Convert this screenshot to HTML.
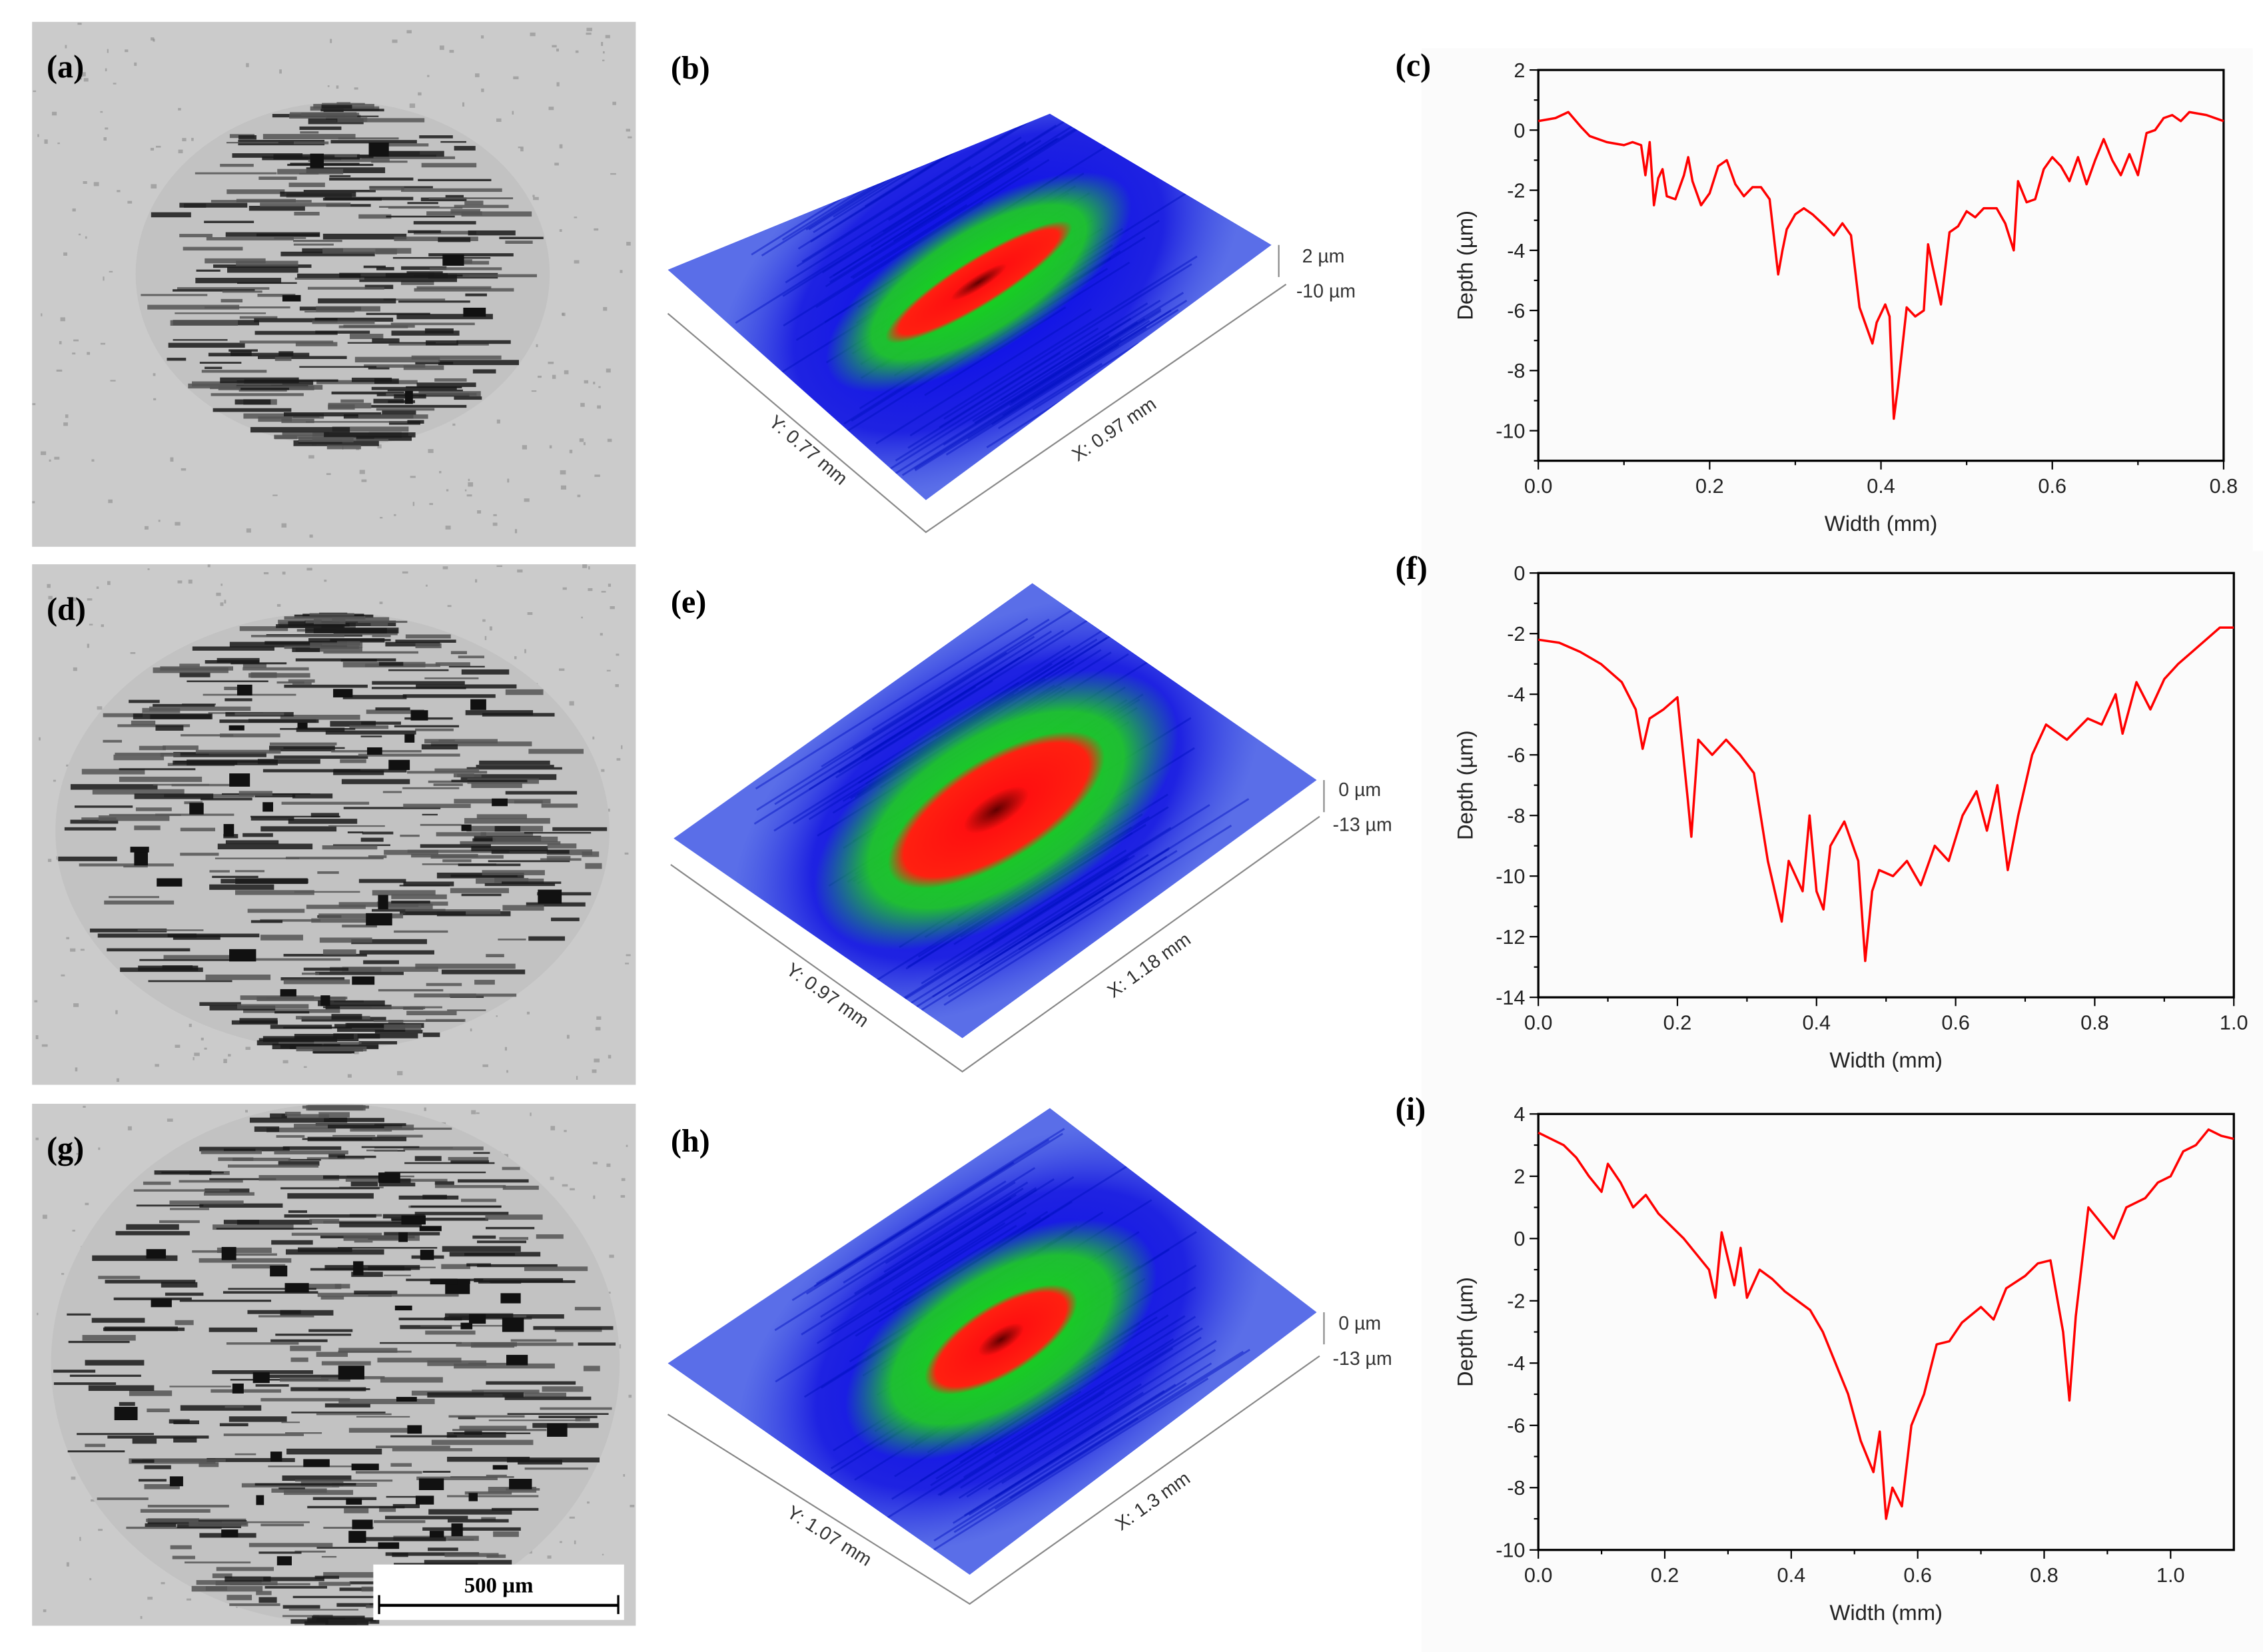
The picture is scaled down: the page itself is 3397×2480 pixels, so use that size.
<!DOCTYPE html>
<html><head><meta charset="utf-8">
<style>
html,body{margin:0;padding:0;background:#fff;}
svg{display:block;}
text{font-family:"Liberation Sans",sans-serif;}
.pl{font-family:"Liberation Serif",serif;font-weight:bold;font-size:22px;}
.tk{font-size:14px;fill:#222;}
.at{font-size:15px;fill:#222;}
.sm{font-size:13px;fill:#333;}
</style></head>
<body>
<svg id="fig" width="3397" height="2480" viewBox="0 0 1552 1133" preserveAspectRatio="none" xmlns="http://www.w3.org/2000/svg">
<defs>
<radialGradient id="gG" cx="50%" cy="50%" r="50%">
<stop offset="0" stop-color="#10e010"/><stop offset="0.7" stop-color="#20d020" stop-opacity="0.9"/><stop offset="1" stop-color="#20c040" stop-opacity="0"/>
</radialGradient>
<radialGradient id="gR" cx="50%" cy="50%" r="50%">
<stop offset="0" stop-color="#600000"/><stop offset="0.3" stop-color="#ff1010"/><stop offset="0.85" stop-color="#ff2010"/><stop offset="1" stop-color="#ff2010" stop-opacity="0"/>
</radialGradient>
<radialGradient id="gB" cx="50%" cy="50%" r="50%">
<stop offset="0" stop-color="#0000ee"/><stop offset="0.7" stop-color="#1010e0" stop-opacity="0.8"/><stop offset="1" stop-color="#3040e0" stop-opacity="0"/>
</radialGradient>
</defs>
<g id="photos"></g>
<g id="surfaces"></g>
<g id="charts"></g>
</svg>
<script>
const NS="http://www.w3.org/2000/svg";
function mk(tag,attrs,parent){const e=document.createElementNS(NS,tag);for(const k in attrs)e.setAttribute(k,attrs[k]);parent.appendChild(e);return e;}

// ---------- chart data ----------
const cX=[0,0.02,0.035,0.05,0.06,0.08,0.1,0.11,0.12,0.125,0.13,0.135,0.14,0.145,0.15,0.16,0.17,0.175,0.18,0.19,0.2,0.21,0.22,0.23,0.24,0.25,0.26,0.27,0.28,0.285,0.29,0.3,0.31,0.32,0.335,0.345,0.355,0.365,0.375,0.39,0.395,0.405,0.41,0.415,0.42,0.43,0.44,0.45,0.455,0.46,0.47,0.48,0.49,0.5,0.51,0.52,0.535,0.545,0.555,0.56,0.57,0.58,0.59,0.6,0.61,0.62,0.63,0.64,0.65,0.66,0.67,0.68,0.69,0.7,0.71,0.72,0.73,0.74,0.75,0.76,0.78,0.8];
const cY=[0.3,0.4,0.6,0.1,-0.2,-0.4,-0.5,-0.4,-0.5,-1.5,-0.4,-2.5,-1.6,-1.3,-2.2,-2.3,-1.5,-0.9,-1.7,-2.5,-2.1,-1.2,-1.0,-1.8,-2.2,-1.9,-1.9,-2.3,-4.8,-4.0,-3.3,-2.8,-2.6,-2.8,-3.2,-3.5,-3.1,-3.5,-5.9,-7.1,-6.4,-5.8,-6.2,-9.6,-8.5,-5.9,-6.2,-6.0,-3.8,-4.5,-5.8,-3.4,-3.2,-2.7,-2.9,-2.6,-2.6,-3.1,-4.0,-1.7,-2.4,-2.3,-1.3,-0.9,-1.2,-1.7,-0.9,-1.8,-1.0,-0.3,-1.0,-1.5,-0.8,-1.5,-0.1,0.0,0.4,0.5,0.3,0.6,0.5,0.3];
const fX=[0,0.03,0.06,0.09,0.12,0.14,0.15,0.16,0.18,0.2,0.215,0.22,0.23,0.25,0.27,0.29,0.31,0.33,0.35,0.36,0.38,0.39,0.4,0.41,0.42,0.44,0.46,0.47,0.48,0.49,0.51,0.53,0.55,0.57,0.59,0.61,0.63,0.645,0.66,0.675,0.69,0.71,0.73,0.76,0.79,0.81,0.83,0.84,0.86,0.88,0.9,0.92,0.94,0.96,0.98,1.0];
const fY=[-2.2,-2.3,-2.6,-3.0,-3.6,-4.5,-5.8,-4.8,-4.5,-4.1,-7.5,-8.7,-5.5,-6.0,-5.5,-6.0,-6.6,-9.5,-11.5,-9.5,-10.5,-8.0,-10.5,-11.1,-9.0,-8.2,-9.5,-12.8,-10.5,-9.8,-10.0,-9.5,-10.3,-9.0,-9.5,-8.0,-7.2,-8.5,-7.0,-9.8,-8.0,-6.0,-5.0,-5.5,-4.8,-5.0,-4.0,-5.3,-3.6,-4.5,-3.5,-3.0,-2.6,-2.2,-1.8,-1.8];
const iX=[0,0.02,0.04,0.06,0.08,0.1,0.11,0.13,0.15,0.17,0.19,0.21,0.23,0.25,0.27,0.28,0.29,0.31,0.32,0.33,0.35,0.37,0.39,0.41,0.43,0.45,0.47,0.49,0.51,0.53,0.54,0.55,0.56,0.575,0.59,0.61,0.63,0.65,0.67,0.7,0.72,0.74,0.77,0.79,0.81,0.83,0.84,0.85,0.87,0.89,0.91,0.93,0.96,0.98,1.0,1.02,1.04,1.06,1.08,1.1];
const iY=[3.4,3.2,3.0,2.6,2.0,1.5,2.4,1.8,1.0,1.4,0.8,0.4,0.0,-0.5,-1.0,-1.9,0.2,-1.5,-0.3,-1.9,-1.0,-1.3,-1.7,-2.0,-2.3,-3.0,-4.0,-5.0,-6.5,-7.5,-6.2,-9.0,-8.0,-8.6,-6.0,-5.0,-3.4,-3.3,-2.7,-2.2,-2.6,-1.6,-1.2,-0.8,-0.7,-3.0,-5.2,-2.5,1.0,0.5,0.0,1.0,1.3,1.8,2.0,2.8,3.0,3.5,3.3,3.2];
const cXTicks=["0.0","0.2","0.4","0.6","0.8"];
const cYTicks=["2","0","-2","-4","-6","-8","-10"];
const fXTicks=["0.0","0.2","0.4","0.6","0.8","1.0"];
const fYTicks=["0","-2","-4","-6","-8","-10","-12","-14"];
const iXTicks=["0.0","0.2","0.4","0.6","0.8","1.0"];
const iYTicks=["4","2","0","-2","-4","-6","-8","-10"];

function chart(name,X,Y,xt,yt,box,xr,yr,label){
  const g=mk('g',{},document.getElementById('charts'));
  
  
  const [L,T,R,B]=box;
  const sx=v=>L+(v-xr[0])/(xr[1]-xr[0])*(R-L);
  const sy=v=>T+(yr[1]-v)/(yr[1]-yr[0])*(B-T);
  mk('rect',{x:L-80,y:T-15,width:R-L+100,height:B-T+85,fill:'#fbfbfb'},g);
  const fr=mk('rect',{x:L,y:T,width:R-L,height:B-T,fill:'none',stroke:'#000','stroke-width':1.5},g);
  
  
  xt.forEach((t,i)=>{const v=parseFloat(t),x=sx(v);
    mk('line',{x1:x,y1:B,x2:x,y2:B+6,stroke:'#000'},g);
    const tx=mk('text',{x:x,y:B+22,'text-anchor':'middle',class:'tk'},g);tx.textContent=t;
    
    
    if(i<xt.length-1){const xm=sx(v+(parseFloat(xt[1])-parseFloat(xt[0]))/2);mk('line',{x1:xm,y1:B,x2:xm,y2:B+3,stroke:'#000'},g);}
  });
  yt.forEach((t,i)=>{const v=parseFloat(t),y=sy(v);
    mk('line',{x1:L-6,y1:y,x2:L,y2:y,stroke:'#000'},g);
    const tx=mk('text',{x:L-9,y:y+5,'text-anchor':'end',class:'tk'},g);tx.textContent=t;
    
    
    const step=parseFloat(yt[0])-parseFloat(yt[1]);const ym=sy(v-step/2);
    if(ym<=B)mk('line',{x1:L-3,y1:ym,x2:L,y2:ym,stroke:'#000'},g);
  });
  let d='';X.forEach((x,i)=>{d+=(i?'L':'M')+sx(x).toFixed(2)+' '+sy(Y[i]).toFixed(2);});
  const p=mk('path',{d:d,fill:'none',stroke:'#ff0000','stroke-width':1.6,'stroke-linejoin':'round'},g);
  
  
  const xa=mk('text',{x:(L+R)/2,y:B+48,'text-anchor':'middle',class:'at'},g);xa.textContent='Width (mm)';
  
  
  const ya=mk('text',{x:0,y:0,'text-anchor':'middle',class:'at',transform:`translate(${L-45},${(T+B)/2}) rotate(-90)`},g);ya.textContent='Depth (µm)';
  
  
  const pl=mk('text',{x:L-98,y:T+4,class:'pl'},g);pl.textContent=label;
  
  
}
chart('depth-chart-c',cX,cY,cXTicks,cYTicks,[1055,48,1525,316],[0,0.8],[-11,2],'(c)');
chart('depth-chart-f',fX,fY,fXTicks,fYTicks,[1055,393,1532,684],[0,1.0],[-14,0],'(f)');
chart('depth-chart-i',iX,iY,iXTicks,iYTicks,[1055,764,1532,1063],[0,1.1],[-10,4],'(i)');

// ---------- micrograph panels (decorative texture) ----------
let seed=7;function rnd(){seed=(seed*16807)%2147483647;return seed/2147483647;}
function photo(name,y0,h,cx,cy,rx,ry,label,density,blob){
  const g=mk('g',{},document.getElementById('photos'));
  
  
  mk('rect',{x:22,y:y0,width:414,height:h,fill:'#cbcbcb'},g);
  for(let i=0;i<260;i++){mk('rect',{x:22+rnd()*410,y:y0+rnd()*(h-3),width:1+rnd()*3,height:1+rnd()*2,fill:'#8a8a8a',opacity:0.6},g);}
  mk('ellipse',{cx:cx,cy:cy,rx:rx,ry:ry,fill:'#c2c2c2'},g);
  for(let i=0;i<density;i++){
    const yy=cy-ry+rnd()*2*ry;const half=rx*Math.sqrt(Math.max(0,1-((yy-cy)/ry)**2));
    const w=10+rnd()*60;const xx=cx-half+rnd()*Math.max(1,2*half-w);
    mk('rect',{x:xx,y:yy,width:Math.min(w,2*half),height:1+rnd()*3,fill:rnd()<0.5?'#1a1a1a':'#555',opacity:0.85},g);
  }
  for(let i=0;i<blob;i++){const a=rnd()*6.28,r=Math.sqrt(rnd())*0.8;
    mk('rect',{x:cx+Math.cos(a)*rx*r,y:cy+Math.sin(a)*ry*r,width:5+rnd()*14,height:3+rnd()*7,fill:'#111'},g);}
  const t=mk('text',{x:32,y:y0+38,class:'pl'},g);t.textContent=label;
  
  
  return g;
}
photo('micrograph-a',15,360,235,188,142,118,'(a)',260,6);
photo('micrograph-d',387,357,228,570,190,150,'(d)',380,25);
const gg=photo('micrograph-g',757,358,230,935,195,178,'(g)',380,45);
const sb=mk('rect',{x:256,y:1073,width:172,height:38,fill:'#fff'},gg);


mk('line',{x1:260,y1:1101,x2:424,y2:1101,stroke:'#000','stroke-width':2},gg);
mk('line',{x1:260,y1:1094,x2:260,y2:1107,stroke:'#000','stroke-width':1.5},gg);
mk('line',{x1:424,y1:1094,x2:424,y2:1107,stroke:'#000','stroke-width':1.5},gg);
const sbt=mk('text',{x:342,y:1092,'text-anchor':'middle',style:'font-family:Liberation Serif,serif;font-weight:bold;font-size:15px'},gg);sbt.textContent='500 µm';



// ---------- 3D surfaces ----------
function surface(name,P,axes,ylab,xlab,zt,rG,rR){
  const g=mk('g',{},document.getElementById('surfaces'));
  
  
  const [l,t,r,b]=P;
  const pts=`${l[0]},${l[1]} ${t[0]},${t[1]} ${r[0]},${r[1]} ${b[0]},${b[1]}`;
  mk('polygon',{points:pts,fill:'#5a6ee8'},g);
  const cx=(l[0]+t[0]+r[0]+b[0])/4,cy=(l[1]+t[1]+r[1]+b[1])/4;
  const ang=-32;
  const clipId=name+'-clip';
  const cp=mk('clipPath',{id:clipId},g);mk('polygon',{points:pts},cp);
  const inner=mk('g',{'clip-path':`url(#${clipId})`},g);
  mk('ellipse',{cx:cx,cy:cy,rx:200,ry:120,fill:'url(#gB)',transform:`rotate(${ang} ${cx} ${cy})`},inner);
  for(let i=0;i<90;i++){const o=(rnd()-0.5)*200;const len=80+rnd()*160;const sh=(rnd()-0.5)*80;
    mk('line',{x1:cx+sh-len/2,y1:cy+o,x2:cx+sh+len/2,y2:cy+o,stroke:'#0010c0','stroke-width':1.3,opacity:0.45,transform:`rotate(${ang} ${cx} ${cy})`},inner);}
  mk('ellipse',{cx:cx,cy:cy,rx:rG[0],ry:rG[1],fill:'url(#gG)',transform:`rotate(${ang} ${cx} ${cy})`},inner);
  mk('ellipse',{cx:cx,cy:cy,rx:rR[0],ry:rR[1],fill:'url(#gR)',transform:`rotate(${ang} ${cx} ${cy})`},inner);
  const [a0,a1,a2]=axes;
  mk('polyline',{points:`${a0[0]},${a0[1]} ${a1[0]},${a1[1]} ${a2[0]},${a2[1]}`,fill:'none',stroke:'#888','stroke-width':1},g);
  const ya=(Math.atan2(a1[1]-a0[1],a1[0]-a0[0]))*180/Math.PI;
  const xa=(Math.atan2(a2[1]-a1[1],a2[0]-a1[0]))*180/Math.PI;
  const ym=[(a0[0]+a1[0])/2+5,(a0[1]+a1[1])/2+22];
  const t1=mk('text',{x:ym[0],y:ym[1],'text-anchor':'middle',class:'sm',transform:`rotate(${ya} ${ym[0]} ${ym[1]})`},g);t1.textContent=ylab;
  
  
  const xm=[(a1[0]+a2[0])/2+8,(a1[1]+a2[1])/2+18];
  const t2=mk('text',{x:xm[0],y:xm[1],'text-anchor':'middle',class:'sm',transform:`rotate(${xa} ${xm[0]} ${xm[1]})`},g);t2.textContent=xlab;
  
  
  mk('line',{x1:r[0]+5,y1:r[1],x2:r[0]+5,y2:r[1]+22,stroke:'#888'},g);
  const z1=mk('text',{x:zt[0],y:zt[1],class:'sm'},g);z1.textContent=zt[2];
  
  
  const z2=mk('text',{x:zt[0]-4,y:zt[1]+24,class:'sm'},g);z2.textContent=zt[3];
  
  
  const pl=mk('text',{x:460,y:0,class:'pl'},g);
  
  
  return pl;
}
const p1=surface('surface-3d-b',[[458,185],[720,78],[872,168],[635,343]],[[458,215],[635,365],[882,195]],'Y: 0.77 mm','X: 0.97 mm',[893,180,'2 µm','-10 µm'],[120,48],[75,16]);
p1.setAttribute('y',54);p1.textContent='(b)';
const p2=surface('surface-3d-e',[[462,575],[708,400],[903,535],[660,712]],[[460,593],[660,735],[905,560]],'Y: 0.97 mm','X: 1.18 mm',[918,546,'0 µm','-13 µm'],[140,72],[85,35]);
p2.setAttribute('y',420);p2.textContent='(e)';
const p3=surface('surface-3d-h',[[458,935],[720,760],[903,900],[665,1080]],[[458,970],[665,1100],[905,930]],'Y: 1.07 mm','X: 1.3 mm',[918,912,'0 µm','-13 µm'],[120,62],[60,24]);
p3.setAttribute('y',790);p3.textContent='(h)';
</script>
</body></html>
